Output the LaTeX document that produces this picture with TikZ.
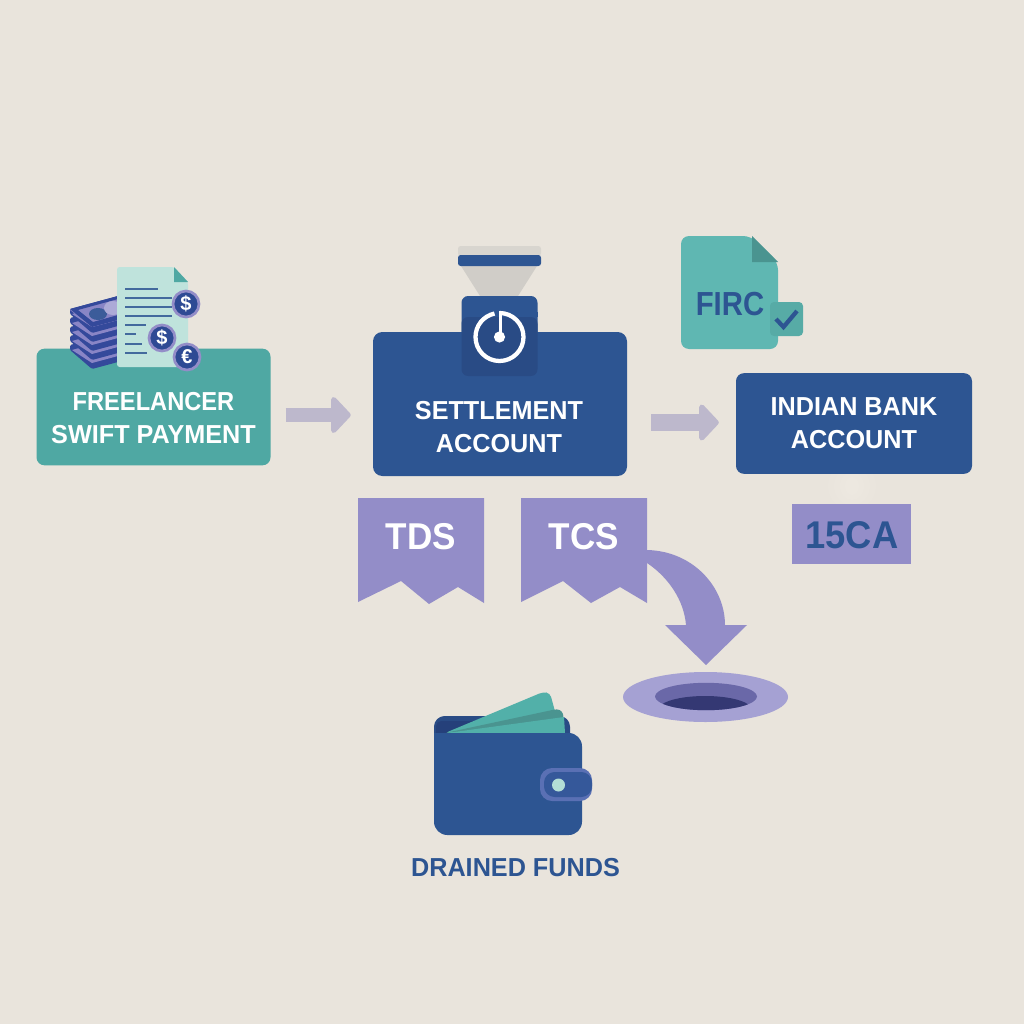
\documentclass[tikz,border=0pt]{standalone}
\usepackage{fontspec}
\setmainfont{Liberation Sans}
\newfontfamily\condA[FakeStretch=0.97]{Liberation Sans}
\newfontfamily\condB[FakeStretch=0.91]{Liberation Sans}
\newfontfamily\condC[FakeStretch=0.94]{Liberation Sans}
\newfontfamily\condD[FakeStretch=0.88]{Liberation Sans}
\usetikzlibrary{calc,arrows.meta}
\definecolor{bg}{HTML}{E9E4DC}
\definecolor{tealbox}{HTML}{4FA8A3}
\definecolor{tealcard}{HTML}{52B0A9}
\definecolor{tealdoc}{HTML}{5FB7B2}
\definecolor{tealcheck}{HTML}{57ABA6}
\definecolor{tealdark}{HTML}{4A9490}
\definecolor{navy}{HTML}{2D5592}
\definecolor{navydark}{HTML}{294B85}
\definecolor{pocket}{HTML}{25407A}
\definecolor{purp}{HTML}{938DC8}
\definecolor{purplight}{HTML}{A5A1D3}
\definecolor{purpmid}{HTML}{6A68A8}
\definecolor{hole}{HTML}{343873}
\definecolor{arrowc}{HTML}{BDB8CC}
\definecolor{paper}{HTML}{BFE3DC}
\definecolor{coinblue}{HTML}{2E4A94}
\definecolor{grayf}{HTML}{D0CDC8}
\definecolor{grayt}{HTML}{D8D5CF}
\definecolor{billdark}{HTML}{34499B}
\definecolor{billlight}{HTML}{8985C6}
\definecolor{strap}{HTML}{5A70B4}
\definecolor{strapin}{HTML}{35589A}
\definecolor{mint}{HTML}{B3DED6}
\tikzset{
  boxlabel/.style={align=center,font=\condA\bfseries\fontsize{19.5}{25}\selectfont,text=white,inner sep=0pt},
  taglabel/.style={font=\condC\bfseries\fontsize{28}{30}\selectfont,text=white,inner sep=0pt},
  flowarrow/.style={draw=arrowc,-{Triangle[round,line width=4pt,length=15.5pt,width=32pt]}},
  docline/.style={draw=navy!85!paper,line width=1.8pt},
  coin/.style={circle,draw=purp,line width=2pt,fill=coinblue,text=white,minimum size=19.5pt,inner sep=0pt,font=\bfseries\fontsize{15}{15}\selectfont},
}
\begin{document}
\begin{tikzpicture}[x=0.75pt,y=-0.75pt]
\useasboundingbox (0,0) rectangle (1024,1024);
\fill[bg] (0,0) rectangle (1024,1024);

% ---- teal box
\node[fill=tealbox,rounded corners=6pt,minimum width=175.5pt,minimum height=87.5pt,inner sep=0pt] (fsp) at (153.5,407) {};
\node[boxlabel] (fsplabel) at (153.5,418) {{\condB FREELANCER}\\SWIFT PAYMENT};

% ---- stack of notes
\foreach \d in {36,27,18,9,0}{
  \fill[billdark,rounded corners=1pt] ($(70,309)+(0,\d)$) -- ($(118,296)+(0,\d)$) -- ($(118,326)+(0,\d)$) -- ($(92,333)+(0,\d)$) -- ($(70,314)+(0,\d)$) -- cycle;
  \fill[billlight] ($(72,314)+(0,\d)$) -- ($(118,301)+(0,\d)$) -- ($(118,320)+(0,\d)$) -- ($(92,327)+(0,\d)$) -- cycle;
}
\fill[billlight] (70,310) -- (118,297) -- (118,320) -- (92,327) -- cycle;
\fill[billdark] (70,309) -- (118,296) -- (118,299) -- (78,310) -- (93,322) -- (118,315) -- (118,320) -- (92,327) -- cycle;
\fill[navy!85!billlight] (98,314) ellipse [x radius=9, y radius=6];
\fill[billlight!70!white] (113,308) ellipse [x radius=9, y radius=7];

% ---- paper
\fill[paper,rounded corners=2pt] (117,267) -- (174,267) -- (188,282) -- (188,367) -- (117,367) -- cycle;
\fill[tealbox] (174,267) -- (188,282) -- (174,282) -- cycle;
\foreach \yy/\xx in {289/158,298/172,307/172,316/172,325/146,334/136,344/142,353/147}{
  \draw[docline] (125,\yy) -- (\xx,\yy);
}
\node[coin] (c1) at (186,304) {\$};
\node[coin] (c2) at (162,338) {\$};
\node[coin] (c3) at (187,357) {€};

% ---- settlement
\node[fill=navy,rounded corners=7pt,minimum width=190.5pt,minimum height=108pt,inner sep=0pt] (settle) at (500,404) {};
\node[boxlabel] (settlelabel) at (499,427) {SETTLEMENT\\ACCOUNT};
% funnel
\fill[grayf] (461,266) -- (537,266) -- (518,296) -- (480,296) -- cycle;
\fill[grayt,rounded corners=2pt] (458,246) rectangle (541,256);
\fill[navy,rounded corners=2pt] (458,255) rectangle (541,266);
% gauge
\node[fill=navy,rounded corners=5pt,minimum width=57pt,minimum height=60pt,inner sep=0pt] (gaugetop) at (499.5,336) {};
\fill[navydark,rounded corners=5pt] (461.5,317) rectangle (537.5,376);
\fill[navy] (461.5,312) rectangle (537.5,317);
\draw[white,line width=3.2pt] (499.5,313) arc[start angle=-90,end angle=258,radius=24];
\draw[white,line width=2.6pt] (500.5,311) -- (500.5,337);
\fill[white] (499.5,337) circle (5.6);

% ---- faint glow above the 15CA tag
\foreach \rx/\ry in {24/24,18/19,12/14,7/9}{
  \fill[white,opacity=0.055] (852,486) ellipse [x radius=\rx, y radius=\ry];
}

% ---- bank
\node[fill=navy,rounded corners=6pt,minimum width=177pt,minimum height=75.5pt,inner sep=0pt] (bank) at (854,423.5) {};
\node[boxlabel] (banklabel) at (854,423.5) {INDIAN BANK\\ACCOUNT};

% ---- flow arrows
\coordinate (y1) at (0,415);
\coordinate (y2) at (0,422.5);
\draw[flowarrow,line width=10.5pt,shorten <=11.2pt,shorten >=16.5pt] (fsp.east |- y1) -- (settle.west |- y1);
\draw[flowarrow,line width=12.5pt,shorten <=18pt,shorten >=12.7pt] (settle.east |- y2) -- (bank.west |- y2);

% ---- tags
\fill[purp] (358,498) -- (484,498) -- (484,603) -- (458,587) -- (429,604) -- (401,581) -- (358,602) -- cycle;
\node[taglabel] (tds) at (421,537) {TDS};
\fill[purp] (521,498) -- (647,498) -- (647,603) -- (620,587) -- (591,603) -- (563,581) -- (521,602) -- cycle;
\node[taglabel] (tcs) at (584,537) {TCS};

% ---- curved arrow
\fill[purp] (647,550) .. controls (693,551) and (725,587) .. (725,625) -- (747,625) -- (706,665) -- (665,625) -- (686,625) .. controls (684,600) and (668,577) .. (647,563) -- cycle;

% ---- hole
\fill[purplight] (705.5,697) ellipse [x radius=82.5, y radius=25];
\fill[purpmid] (706,696.5) ellipse [x radius=51, y radius=13.7];
\begin{scope}
  \clip (706,696.5) ellipse [x radius=51, y radius=13.7];
  \fill[hole] (705,709) ellipse [x radius=46, y radius=13];
\end{scope}

% ---- wallet
\fill[navydark,rounded corners=8pt] (434,716) rectangle (570,760);
\fill[pocket,rounded corners=4pt] (436,721) rectangle (500,740);
\fill[tealcard,rounded corners=3pt] (445,733) -- (543,692) -- (550,693) -- (556,715) -- (556,733) -- cycle;
\fill[tealdark,rounded corners=2pt] (445,733) -- (557,709) -- (562,711) -- (564,718) -- (480,730) -- cycle;
\fill[tealcard] (447,733) -- (564,717) -- (565,733) -- cycle;
\fill[navy,rounded corners=10pt] (434,733) rectangle (582,835);
\fill[navy] (434,733) rectangle (460,745);
\fill[strap,rounded corners=9pt] (540,768) rectangle (592,801);
\fill[strapin,rounded corners=8pt] (544,772) rectangle (592,797);
\fill[mint] (558.5,785) circle (6.5);
\node[font=\condA\bfseries\fontsize{19.5}{24}\selectfont,text=navy,inner sep=0pt] (drained) at (515.5,868) {DRAINED FUNDS};

% ---- FIRC doc
\fill[tealdoc,rounded corners=6pt] (681,236) -- (751,236) -- (778,262) -- (778,349) -- (681,349) -- cycle;
\fill[tealdark] (752,236) -- (778,262) -- (752,262) -- cycle;
\node[font=\condD\bfseries\fontsize{25}{28}\selectfont,text=navy,inner sep=0pt] (firc) at (730,304) {FIRC};
\fill[tealcheck,rounded corners=3pt] (770,302) rectangle (803,336);
\draw[navy,line width=3.2pt] (776,319) -- (783.5,327) -- (797,311);

% ---- 15CA
\fill[purp] (792,504) rectangle (911,564);
\node[font=\condC\bfseries\fontsize{29}{32}\selectfont,text=navy,inner sep=0pt] (ca) at (852,535) {15CA};
\end{tikzpicture}
\end{document}
